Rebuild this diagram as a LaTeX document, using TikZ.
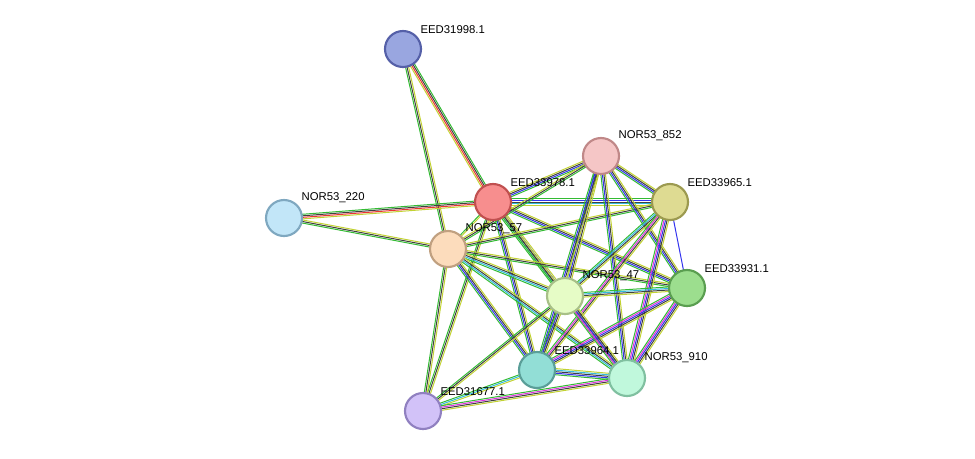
\documentclass[tikz,border=0pt]{standalone}
\usepackage{fontspec}
\setmainfont{Liberation Sans}
\usetikzlibrary{calc}
\definecolor{sgreen}{HTML}{33BB33}
\definecolor{sblue}{HTML}{3333EE}
\definecolor{sblack}{HTML}{404040}
\definecolor{syellow}{HTML}{C2D232}
\definecolor{scyan}{HTML}{33BBDD}
\definecolor{smagenta}{HTML}{DD33DD}
\definecolor{sred}{HTML}{EE3333}
\newcommand\sedge[4]{%
  \foreach \c [count=\i] in {#4} {%
    \pgfmathsetmacro\o{(\i-(#3+1)/2)*1.15}
    \draw[\c,line width=0.75pt] ($(#1)!\o pt!90:(#2)$) -- ($(#2)!\o pt!-90:(#1)$);
  }}
\tikzset{
  prot/.style={shape=circle,minimum size=27pt,inner sep=0pt,line width=1.6pt},
  lbl/.style={font=\fontsize{8.5}{10}\selectfont,inner sep=1pt,anchor=south west}
}
\begin{document}
\begin{tikzpicture}[x=0.75pt,y=-0.75pt]
	\useasboundingbox (0,0) rectangle (975,458);

	\coordinate (ea) at (403,49);
	\coordinate (nb) at (601,156);
	\coordinate (ec) at (493,202);
	\coordinate (ed) at (670,202);
	\coordinate (ne) at (284,218);
	\coordinate (nf) at (448,249);
	\coordinate (eg) at (687,288);
	\coordinate (nh) at (565,296);
	\coordinate (ei) at (537,370);
	\coordinate (nj) at (627,378);
	\coordinate (ek) at (423,411);

	% edges
	\sedge{ea}{ec}{4}{syellow,sred,sblack,sgreen}
	\sedge{ea}{nf}{3}{sgreen,sblack,syellow}
	\sedge{ne}{ec}{4}{syellow,sred,sblack,sgreen}
	\sedge{ne}{nf}{3}{sgreen,sblack,syellow}
	\sedge{ec}{nb}{4}{sgreen,sblue,sblack,syellow}
	\sedge{ec}{ed}{5}{syellow,scyan,sblack,sblue,sgreen}
	\sedge{ec}{eg}{4}{sgreen,sblue,sblack,syellow}
	\sedge{ec}{nh}{5}{sgreen,scyan,sblack,sblue,syellow}
	\sedge{ec}{ei}{4}{sgreen,sblue,sblack,syellow}
	\sedge{ec}{nj}{3}{sgreen,sblack,syellow}
	\sedge{ec}{ek}{3}{sgreen,sblack,syellow}
	\sedge{ec}{nf}{2}{sgreen,syellow}
	\sedge{nf}{nb}{3}{sgreen,sblack,syellow}
	\sedge{nf}{ed}{3}{sgreen,sblack,syellow}
	\sedge{nf}{eg}{3}{sgreen,sblack,syellow}
	\sedge{nf}{nh}{4}{sgreen,scyan,sblack,syellow}
	\sedge{nf}{ei}{4}{sgreen,sblue,sblack,syellow}
	\sedge{nf}{nj}{4}{sgreen,scyan,sblack,syellow}
	\sedge{nf}{ek}{3}{sgreen,sblack,syellow}
	\sedge{nb}{ed}{4}{sgreen,sblue,sblack,syellow}
	\sedge{nb}{eg}{4}{sgreen,sblue,sblack,syellow}
	\sedge{nb}{nh}{4}{sgreen,sblue,sblack,syellow}
	\sedge{nb}{ei}{4}{sgreen,sblue,sblack,syellow}
	\sedge{nb}{nj}{4}{sgreen,sblue,sblack,syellow}
	\sedge{ed}{eg}{1}{sblue}
	\sedge{ed}{nh}{4}{sgreen,scyan,sblack,syellow}
	\sedge{ed}{ei}{4}{sgreen,smagenta,sblack,syellow}
	\sedge{ed}{nj}{5}{sgreen,smagenta,sblue,sblack,syellow}
	\sedge{eg}{nh}{4}{sgreen,scyan,sblack,syellow}
	\sedge{eg}{ei}{5}{sgreen,smagenta,sblue,sblack,syellow}
	\sedge{eg}{nj}{5}{sgreen,smagenta,sblue,sblack,syellow}
	\sedge{nh}{ei}{4}{sgreen,sblue,sblack,syellow}
	\sedge{nh}{nj}{5}{sgreen,smagenta,sblue,sblack,syellow}
	\sedge{nh}{ek}{3}{sgreen,sblack,syellow}
	\sedge{ei}{nj}{5}{sgreen,sblue,sblack,scyan,syellow}
	\sedge{ei}{ek}{3}{sgreen,scyan,syellow}
	\sedge{nj}{ek}{4}{sgreen,smagenta,sblack,syellow}

	% proteins
	\node[prot,fill={rgb,255:red,153;green,166;blue,224},draw={rgb,255:red,85;green,96;blue,168}] (pea) at (ea) {};
	\node[prot,fill={rgb,255:red,245;green,198;blue,198},draw={rgb,255:red,192;green,136;blue,136}] (pnb) at (nb) {};
	\node[prot,fill={rgb,255:red,247;green,142;blue,142},draw={rgb,255:red,192;green,80;blue,80}] (pec) at (ec) {};
	\node[prot,fill={rgb,255:red,222;green,219;blue,146},draw={rgb,255:red,156;green,154;blue,80}] (ped) at (ed) {};
	\node[prot,fill={rgb,255:red,194;green,230;blue,248},draw={rgb,255:red,127;green,168;blue,192}] (pne) at (ne) {};
	\node[prot,fill={rgb,255:red,252;green,220;blue,188},draw={rgb,255:red,192;green,160;blue,128}] (pnf) at (nf) {};
	\node[prot,fill={rgb,255:red,156;green,222;blue,142},draw={rgb,255:red,90;green,158;blue,80}] (peg) at (eg) {};
	\node[prot,fill={rgb,255:red,230;green,252;blue,198},draw={rgb,255:red,168;green,192;blue,136}] (pnh) at (nh) {};
	\node[prot,fill={rgb,255:red,146;green,222;blue,214},draw={rgb,255:red,90;green,158;blue,152}] (pei) at (ei) {};
	\node[prot,fill={rgb,255:red,192;green,248;blue,220},draw={rgb,255:red,128;green,192;blue,160}] (pnj) at (nj) {};
	\node[prot,fill={rgb,255:red,210;green,194;blue,248},draw={rgb,255:red,144;green,128;blue,192}] (pek) at (ek) {};

	% labels
	\node[lbl] (lea) at ($(ea)+(16,-14)$) {EED31998.1};
	\node[lbl] (lnb) at ($(nb)+(16,-14)$) {NOR53\_852};
	\node[lbl] (lec) at ($(ec)+(16,-14)$) {EED33978.1};
	\node[lbl] (led) at ($(ed)+(16,-14)$) {EED33965.1};
	\node[lbl] (lne) at ($(ne)+(16,-14)$) {NOR53\_220};
	\node[lbl] (lnf) at ($(nf)+(16,-14)$) {NOR53\_57};
	\node[lbl] (leg) at ($(eg)+(16,-14)$) {EED33931.1};
	\node[lbl] (lnh) at ($(nh)+(16,-14)$) {NOR53\_47};
	\node[lbl] (lei) at ($(ei)+(16,-14)$) {EED33964.1};
	\node[lbl] (lnj) at ($(nj)+(16,-14)$) {NOR53\_910};
	\node[lbl] (lek) at ($(ek)+(16,-14)$) {EED31677.1};
\end{tikzpicture}
\end{document}
